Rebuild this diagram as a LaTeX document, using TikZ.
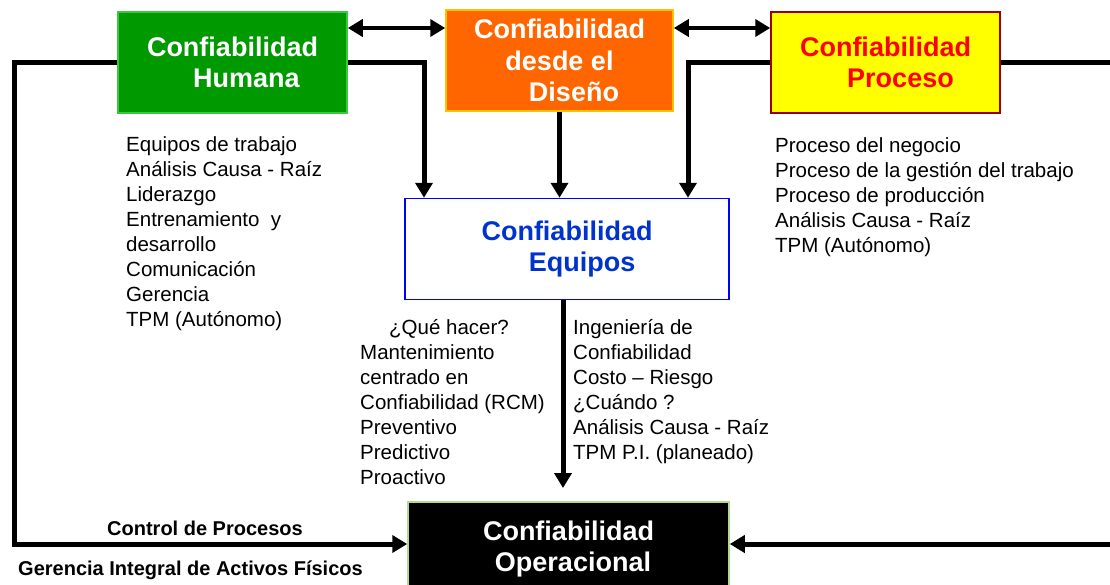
\documentclass[tikz,border=0pt]{standalone}
\usepackage{fontspec}
\setmainfont{Liberation Sans}
\usetikzlibrary{arrows.meta,positioning}
\definecolor{cGreen}{RGB}{0,153,0}
\definecolor{cGreenL}{RGB}{60,200,60}
\definecolor{cOrange}{RGB}{255,102,0}
\definecolor{cGold}{RGB}{255,192,0}
\definecolor{cYellow}{RGB}{255,255,0}
\definecolor{cDarkRed}{RGB}{153,0,0}
\definecolor{cRed}{RGB}{255,0,0}
\definecolor{cBlue}{RGB}{0,51,204}
\definecolor{cBlueL}{RGB}{0,0,255}
\definecolor{cPale}{RGB}{180,215,150}
\tikzset{
    box/.style={rectangle, draw, line width=1.5pt, inner sep=0pt, align=center, font=\bfseries\fontsize{27}{31.5}\selectfont},
    lst/.style={anchor=north west, inner sep=0pt, align=left, font=\fontsize{20.5}{25}\selectfont},
    lbl/.style={anchor=base west, inner sep=0pt, font=\bfseries\fontsize{20}{24}\selectfont},
    flow/.style={line width=5pt, -{Triangle[length=15pt,width=17pt]}},
    dbl/.style={line width=4pt, {Triangle[length=15pt,width=17pt]}-{Triangle[length=15pt,width=17pt]}}
}

\begin{document}
\begin{tikzpicture}[x=1pt,y=-1pt]
\useasboundingbox (0,0) rectangle (1110,584);
% boxes
\node[box, fill=cGreen, draw=cGreenL, text=white, minimum width=229pt, minimum height=101pt] (hum) at (232.5,62.5) {Confiabilidad\\\hspace*{28pt}Humana};
\node[box, fill=cOrange, draw=cGold, text=white, minimum width=227pt, minimum height=101pt] (dis) at (559.5,60.5) {Confiabilidad\\desde el\\\hspace*{29pt}Diseño};
\node[box, fill=cYellow, draw=cDarkRed, text=cRed, minimum width=229pt, minimum height=101pt] (pro) at (885.5,62.5) {Confiabilidad\\\hspace*{30pt}Proceso};
\node[box, fill=white, draw=cBlueL, text=cBlue, minimum width=324pt, minimum height=101pt] (equ) at (567,249) {Confiabilidad\\\hspace*{30pt}Equipos};
\node[box, fill=black, draw=cPale, text=white, minimum width=321pt, minimum height=94pt] (ope) at (568.5,549) {Confiabilidad\\\hspace*{9pt}Operacional};
% texts
\node[lst] (lh) at (126,136.5) {Equipos de trabajo\\Análisis Causa - Raíz\\Liderazgo\\Entrenamiento~ y\\desarrollo\\Comunicación\\Gerencia\\TPM (Autónomo)};
\node[lst] (lp) at (775,137) {Proceso del negocio\\Proceso de la gestión del trabajo\\Proceso de producción\\Análisis Causa - Raíz\\TPM (Autónomo)};
\node[lst] (lq) at (360,319.5) {\hspace*{29pt}¿Qué hacer?\\Mantenimiento\\centrado en\\Confiabilidad (RCM)\\Preventivo\\Predictivo\\Proactivo};
\node[lst] (lc) at (573,319.5) {Ingeniería de\\Confiabilidad\\Costo – Riesgo\\¿Cuándo ?\\Análisis Causa - Raíz\\TPM P.I. (planeado)};
\node[lbl] (cp) at (107,535) {Control de Procesos};
\node[lbl] (ga) at (18,575) {Gerencia Integral de Activos Físicos};
% connectors
\coordinate (top) at (0,28);
\coordinate (lft) at (14,544);
\coordinate (rgt) at (1116,544);
\coordinate (ea) at (424,0);
\coordinate (eb) at (688,0);
\coordinate (dn) at (563,488);
\draw[dbl] (hum.east |- top) -- (dis.west |- top);
\draw[dbl] (dis.east |- top) -- (pro.west |- top);
\draw[flow] (hum.west) -| (lft) -- (ope.west |- lft);
\draw[flow] (pro.east) -| (rgt) -- (ope.east |- rgt);
\draw[flow] (hum.east) -| (equ.north -| ea);
\draw[flow] (dis.south) -- (equ.north -| dis.south);
\draw[flow] (pro.west) -| (equ.north -| eb);
\draw[flow] (equ.south -| dn) -- (dn);
\end{tikzpicture}
\end{document}
